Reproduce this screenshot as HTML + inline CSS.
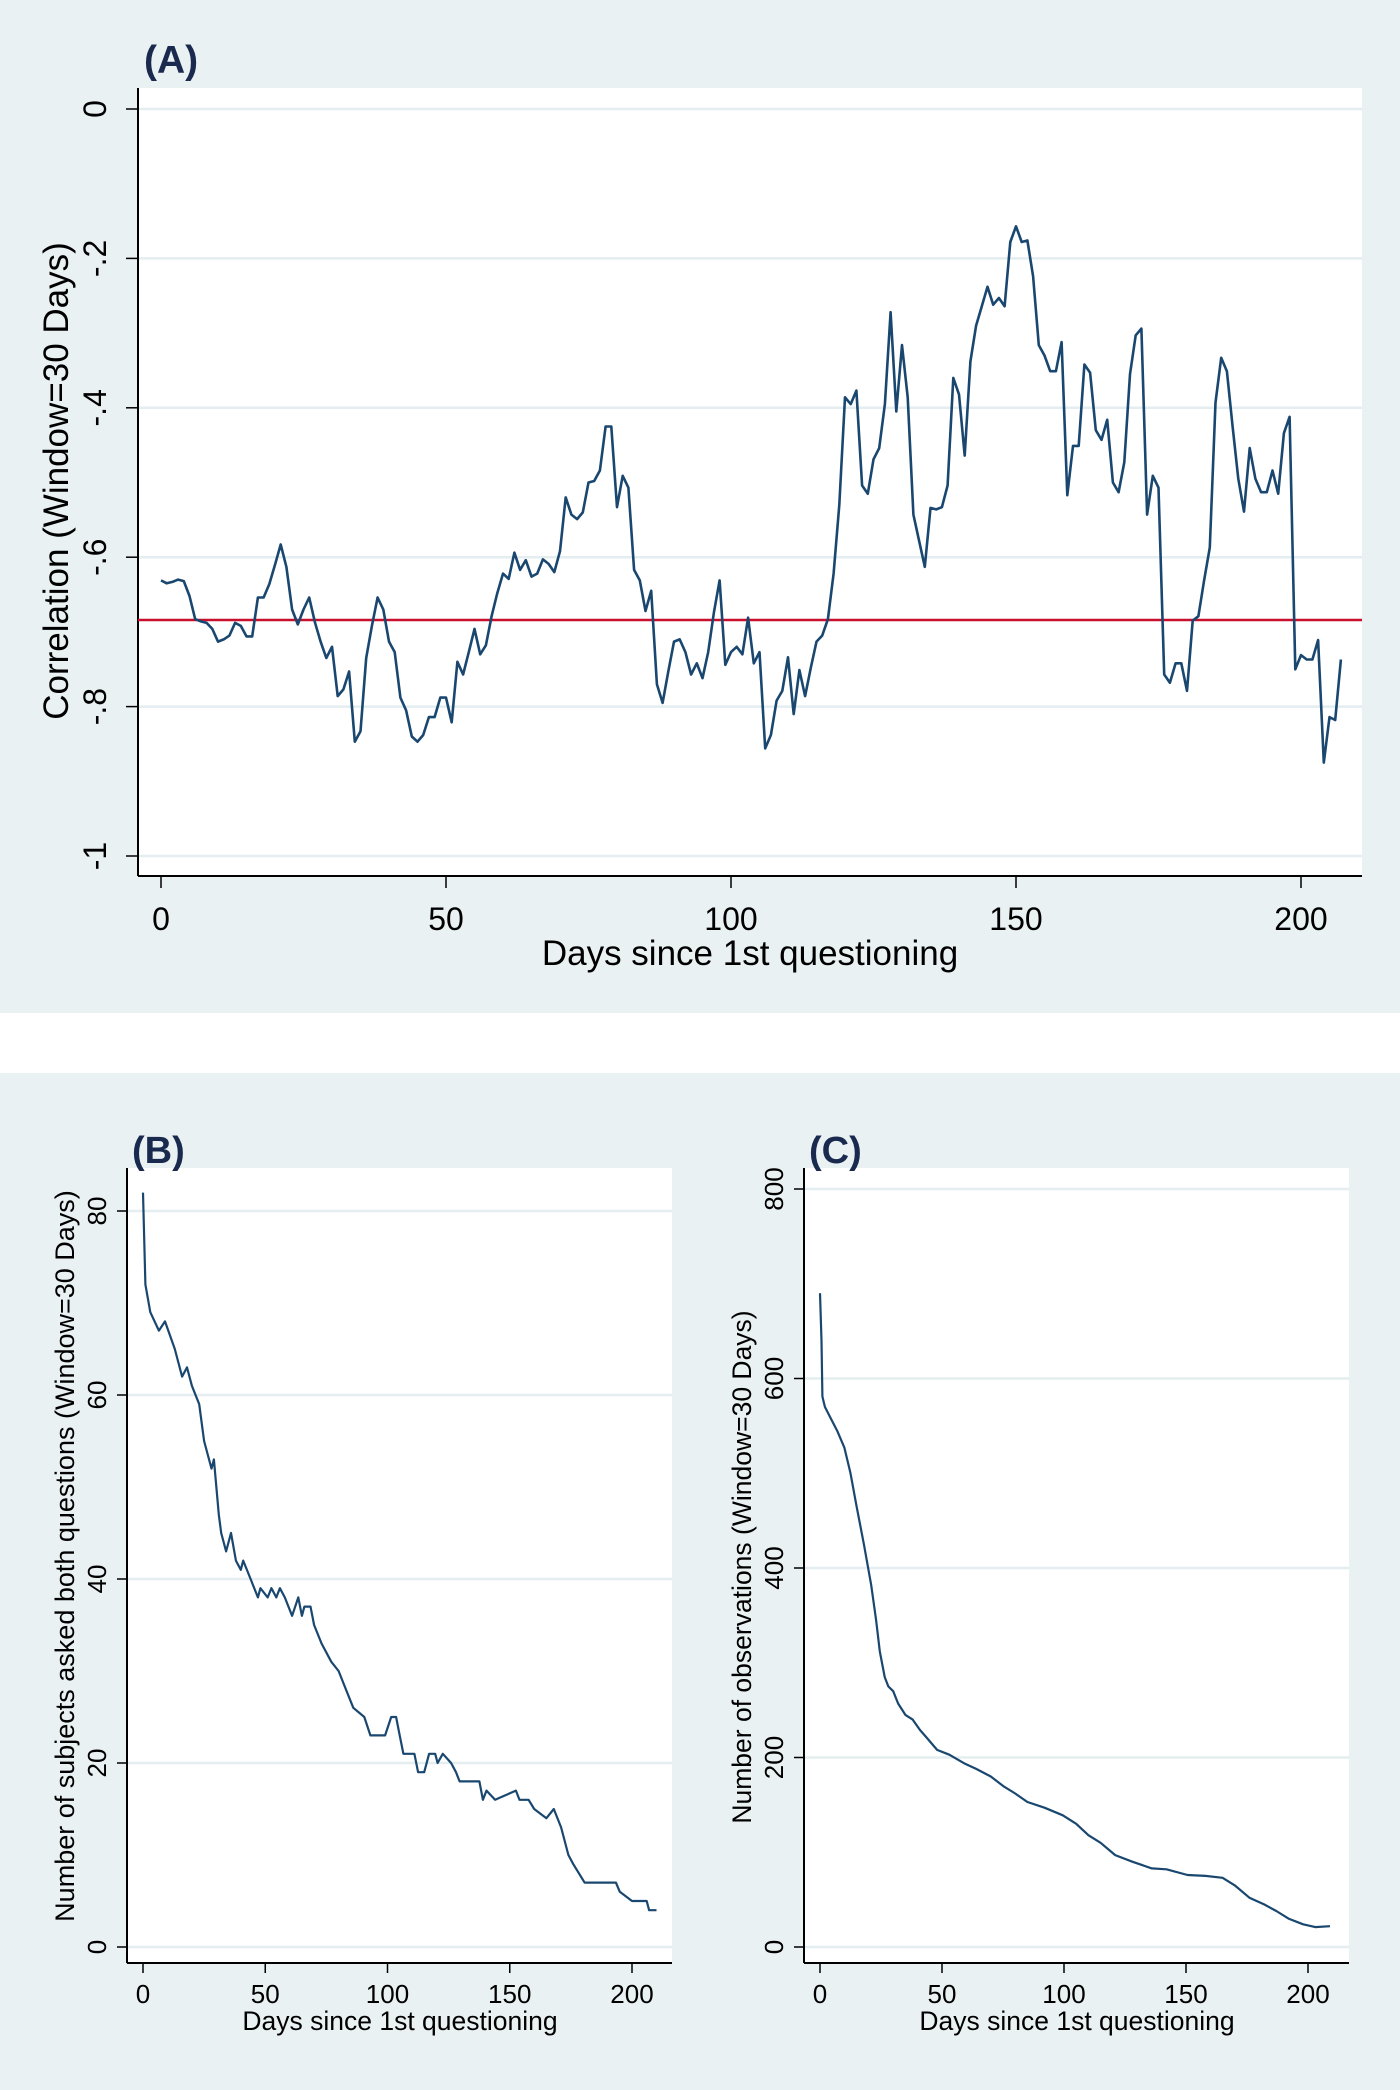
<!DOCTYPE html>
<html><head><meta charset="utf-8"><style>
html,body{margin:0;padding:0;background:#fff}
svg{display:block;font-family:"Liberation Sans",Arial,sans-serif}
</style></head><body>
<svg id="fig" width="1400" height="2090" viewBox="0 0 1400 2090" xmlns="http://www.w3.org/2000/svg">
<rect x="0" y="0" width="1400" height="1013" fill="#eaf1f3"/>
<rect x="0" y="1073" width="1400" height="1017" fill="#eaf1f3"/>
<g id="pa"></g>
<g id="pb"></g>
<g id="pc"></g>
</svg>
<script>
const aValues=[-0.631,-0.635,-0.633,-0.63,-0.632,-0.652,-0.683,-0.686,-0.688,-0.696,-0.713,-0.71,-0.705,-0.688,-0.692,-0.706,-0.706,-0.654,-0.654,-0.636,-0.61,-0.583,-0.613,-0.67,-0.69,-0.67,-0.654,-0.687,-0.713,-0.735,-0.72,-0.786,-0.777,-0.753,-0.847,-0.833,-0.735,-0.692,-0.654,-0.67,-0.713,-0.727,-0.788,-0.805,-0.84,-0.847,-0.838,-0.814,-0.814,-0.788,-0.788,-0.821,-0.74,-0.757,-0.727,-0.696,-0.73,-0.718,-0.679,-0.648,-0.622,-0.629,-0.594,-0.617,-0.604,-0.626,-0.622,-0.603,-0.609,-0.62,-0.592,-0.52,-0.543,-0.549,-0.54,-0.5,-0.498,-0.484,-0.425,-0.425,-0.533,-0.491,-0.507,-0.617,-0.631,-0.672,-0.645,-0.77,-0.795,-0.753,-0.713,-0.71,-0.727,-0.757,-0.742,-0.762,-0.727,-0.674,-0.631,-0.744,-0.727,-0.72,-0.73,-0.681,-0.742,-0.727,-0.856,-0.838,-0.792,-0.779,-0.734,-0.81,-0.751,-0.786,-0.748,-0.713,-0.705,-0.683,-0.622,-0.53,-0.386,-0.395,-0.377,-0.504,-0.515,-0.469,-0.454,-0.395,-0.272,-0.405,-0.316,-0.386,-0.543,-0.578,-0.613,-0.534,-0.536,-0.533,-0.504,-0.36,-0.382,-0.464,-0.338,-0.29,-0.264,-0.238,-0.262,-0.253,-0.264,-0.178,-0.157,-0.178,-0.176,-0.224,-0.316,-0.33,-0.351,-0.351,-0.312,-0.517,-0.451,-0.451,-0.342,-0.353,-0.43,-0.443,-0.416,-0.5,-0.513,-0.473,-0.355,-0.303,-0.294,-0.543,-0.491,-0.507,-0.757,-0.768,-0.742,-0.742,-0.779,-0.685,-0.679,-0.631,-0.587,-0.393,-0.333,-0.351,-0.425,-0.495,-0.539,-0.454,-0.495,-0.513,-0.513,-0.484,-0.515,-0.434,-0.412,-0.75,-0.731,-0.737,-0.737,-0.711,-0.875,-0.814,-0.818,-0.737];
const aRef=-0.684;
const aXTicks=[0,50,100,150,200];
const aYTicks=[0,-0.2,-0.4,-0.6,-0.8,-1];
const aYLabels=["0","-.2","-.4","-.6","-.8","-1"];
const bDays=[0,1,3,6.5,9,13,16,18,20,23,25,28,29,31,32,34,36,38,40,41,44,47,48,51,52.5,54.5,56,58,61,63.5,65,66,68.5,70,73,77,80,83,86,90.5,93,99,101.5,103.5,105,106.5,111,112.5,115,117,119.5,120.5,122.6,126,128,129.5,137.6,139,140.5,144,152.5,154,157.7,160,165,168,171,174,176,180.6,193.4,195,200,206,207,210];
const bValues=[82,72,69,67,68,65,62,63,61,59,55,52,53,47,45,43,45,42,41,42,40,38,39,38,39,38,39,38,36,38,36,37,37,35,33,31,30,28,26,25,23,23,25,25,23,21,21,19,19,21,21,20,21,20,19,18,18,16,17,16,17,16,16,15,14,15,13,10,9,7,7,6,5,5,4,4];
const bXTicks=[0,50,100,150,200];
const bYTicks=[0,20,40,60,80];
const cDays=[0,0.6,1,2,4.4,7,10,12.5,15,18,21,23,24.5,26.5,28,30,32,35,38,41,44,48,53,59,64,70,75,80,85,92,99.5,105,110,115,121,128,136,142,150.6,158,165,170,176,182,187,192,198,203,209];
const cValues=[690,640,581,570,558,545,527,500,465,425,382,345,312,285,275,270,257,245,240,229,220,208,203,194,188,180,170,162,153,147,139,130,118,110,97,90,83,82,76,75,73,65,52,45,38,30,24,21,22];
const cXTicks=[0,50,100,150,200];
const cYTicks=[0,200,400,600,800];

const NS="http://www.w3.org/2000/svg";
function mk(parent,tag,attrs,text){const e=document.createElementNS(NS,tag);for(const k in attrs)e.setAttribute(k,attrs[k]);if(text!==undefined)e.textContent=text;parent.appendChild(e);return e;}
function lin(d0,d1,p0,p1){return v=>p0+(v-d0)*(p1-p0)/(d1-d0);}

function panel(g,cfg){
  const X=lin(0,200,cfg.x0,cfg.x200), Y=lin(cfg.yA,cfg.yB,cfg.pyA,cfg.pyB);
  const r=mk(g,'rect',{x:cfg.L,y:cfg.T,width:cfg.R-cfg.L,height:cfg.B-cfg.T,fill:'#fff'});
  
  
  cfg.yTicks.forEach((t,i)=>{
    const y=Y(t);
    const gl=mk(g,'line',{x1:cfg.L,x2:cfg.R,y1:y,y2:y,stroke:'#e4edf0','stroke-width':2.5});
    
    
    mk(g,'line',{x1:cfg.L-cfg.tk,x2:cfg.L,y1:y,y2:y,stroke:'#000','stroke-width':1.5});
    const tx=mk(g,'text',{x:cfg.ylx,y:y,'font-size':cfg.fs,'text-anchor':'middle',transform:`rotate(-90 ${cfg.ylx} ${y})`},cfg.yLabels?cfg.yLabels[i]:String(t));
    
    
  });
  cfg.xTicks.forEach(t=>{
    const x=X(t);
    mk(g,'line',{x1:x,x2:x,y1:cfg.B,y2:cfg.B+cfg.tk,stroke:'#000','stroke-width':1.5});
    const tx=mk(g,'text',{x:x,y:cfg.xly,'font-size':cfg.fs,'text-anchor':'middle'},String(t));
    
    
  });
  mk(g,'line',{x1:cfg.L,x2:cfg.L,y1:cfg.T,y2:cfg.B,stroke:'#000','stroke-width':2});
  mk(g,'line',{x1:cfg.L,x2:cfg.R,y1:cfg.B,y2:cfg.B,stroke:'#000','stroke-width':2});
  if(cfg.ref!==undefined){
    const rl=mk(g,'line',{x1:cfg.L,x2:cfg.R,y1:Y(cfg.ref),y2:Y(cfg.ref),stroke:'#c8102e','stroke-width':2.5});
    
    
  }
  const pts=cfg.xs.map((d,i)=>X(d).toFixed(1)+','+Y(cfg.ys[i]).toFixed(1)).join(' ');
  const pl=mk(g,'polyline',{points:pts,fill:'none',stroke:'#1a476f','stroke-width':cfg.lw,'stroke-linejoin':'round'});
  
  
  const xt=mk(g,'text',{x:cfg.xtx,y:cfg.xty,'font-size':cfg.tfs,'text-anchor':'middle'},'Days since 1st questioning');
  
  
  const yt=mk(g,'text',{x:cfg.ytx,y:cfg.yty,'font-size':cfg.ytfs,'text-anchor':'middle',transform:`rotate(-90 ${cfg.ytx} ${cfg.yty})`},cfg.ytitle);
  
  
  const pt=mk(g,'text',{x:cfg.plx,y:cfg.ply,'font-size':cfg.pfs,'font-weight':'bold',fill:'#1a2a4f'},cfg.plabel);
  
  
}
panel(document.getElementById('pa'),{L:138,R:1362,T:88,B:876,x0:161,x200:1301,yA:0,yB:-1,pyA:109,pyB:856,
  yTicks:aYTicks,yLabels:aYLabels,xTicks:aXTicks,tk:12,fs:32,ylx:106,xly:930,xs:aValues.map((v,i)=>i),ys:aValues,ref:aRef,lw:2.6,
  xtx:750,xty:965,tfs:35,ytx:68,yty:481,ytfs:35,ytitle:'Correlation (Window=30 Days)',plx:144,ply:73,pfs:39,plabel:'(A)'});
panel(document.getElementById('pb'),{L:127,R:672,T:1168,B:1963,x0:143,x200:632,yA:0,yB:80,pyA:1947,pyB:1211,
  yTicks:bYTicks,xTicks:bXTicks,tk:10,fs:26,ylx:106,xly:2003,xs:bDays,ys:bValues,lw:2.2,
  xtx:400,xty:2030,tfs:26.5,ytx:74,yty:1556,ytfs:27,ytitle:'Number of subjects asked both questions (Window=30 Days)',plx:132,ply:1163,pfs:38,plabel:'(B)'});
panel(document.getElementById('pc'),{L:804,R:1349,T:1168,B:1963,x0:820,x200:1308,yA:0,yB:800,pyA:1947,pyB:1189,
  yTicks:cYTicks,xTicks:cXTicks,tk:10,fs:26,ylx:783,xly:2003,xs:cDays,ys:cValues,lw:2.2,
  xtx:1077,xty:2030,tfs:26.5,ytx:751,yty:1567,ytfs:26.5,ytitle:'Number of observations (Window=30 Days)',plx:809,ply:1163,pfs:38,plabel:'(C)'});
</script>
</body></html>
